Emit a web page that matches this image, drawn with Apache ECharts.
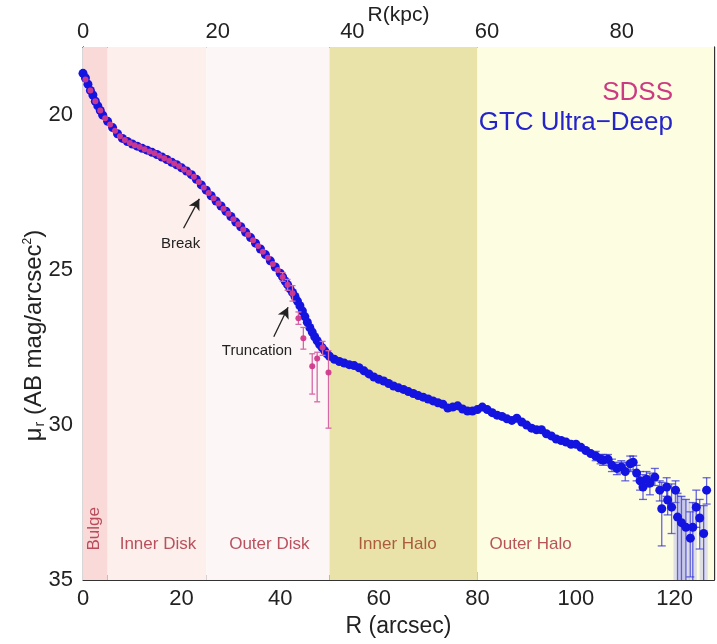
<!DOCTYPE html>
<html>
<head>
<meta charset="utf-8">
<script src="https://cdn.jsdelivr.net/npm/echarts@6/dist/echarts.min.js"></script>
<style>
  html, body { margin: 0; padding: 0; background: #fff; }
  #chart { width: 717px; height: 644px; }
</style>
</head>
<body>
<div id="chart"></div>
<script>
// GTC ultra-deep profile (R in arcsec, mu_r in mag/arcsec^2)
const R_GTC = [0, 0.5, 1, 1.5, 2, 2.5, 3, 3.5, 4, 5, 6, 7, 8, 9, 10, 11, 12, 13, 14, 15, 16, 17, 18, 19,
  20, 21, 22, 23, 24, 25, 26, 27, 28, 29, 30, 31, 32, 33, 34, 35, 36, 37, 38, 39, 40, 40.5, 41, 41.5,
  42, 42.5, 43, 43.5, 44, 44.5, 45, 45.5, 46, 46.5, 47, 47.5, 48, 48.5, 49, 49.5, 50, 51, 52, 53, 54,
  55, 56, 57, 58, 59, 60, 61, 62, 63, 64, 65, 66, 67, 68, 69,
  70, 71, 72, 73, 74, 75, 76, 77, 78, 79, 80, 81, 82, 83, 84, 85, 86, 87, 88, 89, 90, 91, 92, 93, 94,
  95, 96, 97, 98, 99, 100, 101, 102, 103]
const MU_GTC = [18.65, 18.8, 19.0, 19.2, 19.35, 19.55, 19.7, 19.85, 20.0, 20.2, 20.4, 20.6, 20.75, 20.85,
  20.93, 21.0, 21.07, 21.13, 21.2, 21.27, 21.35, 21.43, 21.52, 21.6, 21.7, 21.8, 21.92, 22.07, 22.25,
  22.42, 22.6, 22.77, 22.93, 23.1, 23.27, 23.45, 23.6, 23.78, 23.95, 24.13, 24.32, 24.5, 24.7, 24.9,
  25.1, 25.22, 25.35, 25.47, 25.6, 25.72, 25.85, 26.0, 26.15, 26.32, 26.5, 26.68, 26.85, 27.0, 27.15,
  27.28, 27.4, 27.5, 27.6, 27.7, 27.78, 27.88, 27.95, 28.0, 28.05,
  28.08, 28.15, 28.25, 28.35, 28.45, 28.52, 28.58, 28.66, 28.74, 28.8, 28.85, 28.92, 28.98, 29.05,
  29.1, 29.16, 29.22, 29.28, 29.33, 29.45, 29.42, 29.38, 29.48, 29.55, 29.55, 29.5, 29.42, 29.5, 29.6,
  29.68, 29.72, 29.8, 29.85, 29.78, 29.9, 30.0, 30.1, 30.15, 30.15, 30.28, 30.35, 30.45, 30.5, 30.55,
  30.62, 30.62, 30.72, 30.82, 30.92]

// outer GTC points with error bars
const R_GTC_TAIL = [104, 105, 105.5, 106.5, 107.3, 108.3, 109.2, 110, 111, 111.6, 112.3, 113, 113.6,
  114.3, 115, 116, 117, 117.4, 118.4, 118.6, 119.4, 120.2, 120.6, 121.4, 122.3, 123.2, 123.7, 124.4,
  125.1, 125.9, 126.5]
const MU_GTC_TAIL = [31.0, 31.1, 31.13, 31.1, 31.3, 31.4, 31.35, 31.5, 31.25, 31.2, 31.55, 31.8, 32.0,
  31.75, 31.87, 31.68, 32.1, 32.7, 32.0, 32.42, 32.65, 32.1, 32.97, 33.15, 33.3, 33.65, 33.3, 32.65,
  33.0, 33.5, 32.1]
const LO_GTC_TAIL = [30.85, 30.95, 30.95, 30.95, 31.1, 31.2, 31.15, 31.2, 31.0, 31.0, 31.3, 31.5, 31.6,
  31.5, 31.55, 31.4, 31.8, 31.85, 31.7, 32.0, 31.9, 31.8, 32.2, 32.3, 32.4, 32.8, 32.5, 32.1, 32.4,
  32.6, 31.7]
const HI_GTC_TAIL = [31.15, 31.25, 31.3, 31.25, 31.5, 31.6, 31.55, 31.8, 31.5, 31.45, 31.8, 32.1, 32.4,
  32.0, 32.25, 31.95, 32.45, 33.9, 32.3, 32.9, 33.5, 32.5, 35.5, 35.5, 35.5, 34.9, 35.5, 33.3, 34.0,
  35.5, 32.55]

// SDSS profile
const R_SDSS = [0.5, 1.5, 2.5, 3.5, 4.5, 5.5, 6.5, 7.5, 8.5, 9.5, 10.5, 11.5, 12.5, 13.5, 14.5, 15.5,
  16.5, 17.5, 18.5, 19.5, 20.5, 21.5, 22.5, 23.5, 24.5, 25.5, 26.5, 27.5, 28.5, 29.5, 30.5, 31.5, 32.5,
  33.5, 34.5, 35.5, 36.5, 37.5, 38.5, 39.5]
const MU_SDSS = [18.85, 19.2, 19.55, 19.85, 20.1, 20.3, 20.5, 20.68, 20.8, 20.9, 20.97, 21.03, 21.1,
  21.17, 21.23, 21.31, 21.39, 21.47, 21.56, 21.65, 21.75, 21.86, 21.99, 22.16, 22.33, 22.51, 22.68,
  22.85, 23.02, 23.18, 23.36, 23.52, 23.69, 23.86, 24.04, 24.22, 24.41, 24.6, 24.8, 25.0]
const R_SDSS_ERR = [40.5, 41.5, 42.5, 43.7, 44.7, 46.5, 47.5, 48.6, 49.8]
const MU_SDSS_ERR = [25.22, 25.47, 25.75, 26.55, 27.2, 28.1, 27.85, 27.5, 28.3]
const LO_SDSS_ERR = [25.08, 25.3, 25.5, 26.35, 26.85, 27.7, 27.65, 27.3, 27.6]
const HI_SDSS_ERR = [25.36, 25.65, 26.0, 26.75, 27.55, 29.0, 29.25, 27.75, 30.1]

// regions
const REGION_NAMES = ['Bulge', 'Inner Disk', 'Outer Disk', 'Inner Halo', 'Outer Halo']
const REGION_START = [0, 5, 25, 50, 80]
const REGION_END = [5, 25, 50, 80, 128]
const REGION_COLORS = ['#fad9d9', '#fdefeb', '#fdf6f6', '#e9e3aa', '#fdfde2']

// axes
const X_MAJOR = [0, 20, 40, 60, 80, 100, 120]
const X_MINOR = [5, 10, 15, 25, 30, 35, 45, 50, 55, 65, 70, 75, 85, 90, 95, 105, 110, 115, 125]
const KPC_MAJOR = [0, 20, 40, 60, 80]
const KPC_MINOR = [5, 10, 15, 25, 30, 35, 45, 50, 55, 65, 70, 75, 85, 90]
const Y_MAJOR = [20, 25, 30, 35]
const Y_MINOR = [18, 19, 21, 22, 23, 24, 26, 27, 28, 29, 31, 32, 33, 34]

const ARCSEC_MAX = 128
const KPC_MAX = 93.7
const Y_MIN = 17.8
const Y_MAX = 35

const FONT = 'Liberation Sans, Arial, sans-serif'
const AXIS_COLOR = '#333'
const BLUE = '#1414e0'
const PINK = '#d13a8c'

const chart = echarts.init(document.getElementById('chart'))

const zip2 = (xs, ys) => xs.map((x, i) => [x, ys[i]])
const zip4 = (xs, ys, lo, hi) => xs.map((x, i) => [x, ys[i], lo[i], hi[i]])

function errorBar (color, cap, fill) {
  return function (params, api) {
    const x = api.value(0)
    const p1 = api.coord([x, api.value(2)])
    const p2 = api.coord([x, api.value(3)])
    const style = { stroke: color, lineWidth: 1.3 }
    const children = [
      { type: 'line', shape: { x1: p1[0], y1: p1[1], x2: p2[0], y2: p2[1] }, style },
      { type: 'line', shape: { x1: p1[0] - cap, y1: p1[1], x2: p1[0] + cap, y2: p1[1] }, style },
      { type: 'line', shape: { x1: p2[0] - cap, y1: p2[1], x2: p2[0] + cap, y2: p2[1] }, style }
    ]
    // long bars running off the bottom look like pale columns in the original
    if (fill && api.value(3) >= Y_MAX) {
      children.unshift({
        type: 'rect',
        shape: { x: p1[0] - cap, y: p1[1], width: cap * 2, height: p2[1] - p1[1] },
        style: { fill: fill }
      })
    }
    return { type: 'group', children }
  }
}

function xAxisBase (pos, max, ticks, len, labels) {
  return {
    type: 'value',
    position: pos,
    min: 0,
    max: max,
    axisLine: { show: labels, onZero: false, lineStyle: { color: AXIS_COLOR, width: 1.2 } },
    axisTick: { show: true, inside: true, length: len, customValues: ticks, lineStyle: { color: AXIS_COLOR } },
    axisLabel: labels
      ? { show: true, customValues: ticks, fontFamily: FONT, fontSize: 22, color: '#222', margin: 8 }
      : { show: false },
    splitLine: { show: false }
  }
}

function yAxisBase (pos, ticks, len, labels) {
  return {
    type: 'value',
    position: pos,
    inverse: true,
    min: Y_MIN,
    max: Y_MAX,
    axisLine: { show: true, onZero: false, lineStyle: { color: AXIS_COLOR, width: 1.2 } },
    axisTick: { show: true, inside: true, length: len, customValues: ticks, lineStyle: { color: AXIS_COLOR } },
    axisLabel: labels
      ? { show: true, customValues: ticks, fontFamily: FONT, fontSize: 22, color: '#222', margin: 10 }
      : { show: false },
    splitLine: { show: false }
  }
}

const xBottom = xAxisBase('bottom', ARCSEC_MAX, X_MAJOR, 8, true)
xBottom.name = 'R (arcsec)'
xBottom.nameLocation = 'middle'
xBottom.nameGap = 34
xBottom.nameTextStyle = { fontFamily: FONT, fontSize: 23, color: '#222' }

const xTop = xAxisBase('top', KPC_MAX, KPC_MAJOR, 8, true)
xTop.axisLabel.margin = 4
xTop.name = 'R(kpc)'
xTop.nameLocation = 'middle'
xTop.nameGap = 21
xTop.nameMoveOverlap = false
xTop.nameTextStyle = { fontFamily: FONT, fontSize: 21, color: '#222' }

const yLeft = yAxisBase('left', Y_MAJOR, 8, true)
yLeft.name = '{t|μ}{s|r}{t| (AB mag/arcsec}{p|2}{t|)}'
yLeft.nameLocation = 'middle'
yLeft.nameGap = 36
yLeft.nameMoveOverlap = false
yLeft.nameTextStyle = {
  fontFamily: FONT,
  color: '#222',
  padding: [0, 44, 0, 0],
  rich: {
    t: { fontFamily: FONT, fontSize: 24, color: '#222' },
    s: { fontFamily: FONT, fontSize: 14, color: '#222', padding: [12, 0, 0, 1] },
    p: { fontFamily: FONT, fontSize: 12, color: '#222', padding: [0, 0, 12, 0] }
  }
}

const option = {
  backgroundColor: '#fff',
  animation: false,
  grid: { left: 83, right: 3, top: 47, bottom: 64, outerBoundsMode: 'none' },
  xAxis: [
    xBottom,
    xTop,
    xAxisBase('bottom', ARCSEC_MAX, X_MINOR, 5, false),
    xAxisBase('top', KPC_MAX, KPC_MINOR, 5, false)
  ],
  yAxis: [
    yLeft,
    yAxisBase('left', Y_MINOR, 5, false),
    yAxisBase('right', Y_MAJOR, 8, false),
    yAxisBase('right', Y_MINOR, 5, false)
  ],
  graphic: [
    {
      type: 'text', right: 44, top: 80, z: 100,
      style: { text: 'SDSS', fill: '#cc3a82', font: '26px ' + FONT, textAlign: 'right' }
    },
    {
      type: 'text', right: 44, top: 110, z: 100,
      style: { text: 'GTC Ultra\u2212Deep', fill: '#2424c8', font: '26px ' + FONT, textAlign: 'right' }
    }
  ],
  series: [
    {
      name: 'regions',
      type: 'line',
      data: [],
      silent: true,
      markArea: {
        silent: true,
        data: REGION_NAMES.map((n, i) => [
          { xAxis: REGION_START[i], yAxis: Y_MIN, itemStyle: { color: REGION_COLORS[i] } },
          { xAxis: REGION_END[i], yAxis: Y_MAX }
        ])
      }
    },
    {
      name: 'region labels',
      type: 'scatter',
      symbolSize: 0,
      silent: true,
      data: [
        { value: [2.3, 33.35], name: 'Bulge', label: { rotate: 90 } },
        { value: [15.2, 33.85], name: 'Inner Disk' },
        { value: [37.8, 33.85], name: 'Outer Disk' },
        { value: [63.8, 33.85], name: 'Inner Halo', label: { color: '#9a3a22' } },
        { value: [90.8, 33.85], name: 'Outer Halo' }
      ],
      label: {
        show: true,
        position: 'inside',
        formatter: '{b}',
        fontFamily: FONT,
        fontSize: 17,
        color: '#a8283a'
      }
    },
    {
      name: 'GTC errors',
      type: 'custom',
      clip: true,
      renderItem: errorBar('rgba(40,40,215,0.7)', 4, 'rgba(130,130,240,0.25)'),
      data: zip4(R_GTC_TAIL, MU_GTC_TAIL, LO_GTC_TAIL, HI_GTC_TAIL),
      z: 3
    },
    {
      name: 'GTC Ultra-Deep',
      type: 'scatter',
      symbol: 'circle',
      symbolSize: 9,
      itemStyle: { color: BLUE, opacity: 1 },
      data: zip2(R_GTC, MU_GTC).concat(zip2(R_GTC_TAIL, MU_GTC_TAIL)),
      z: 4
    },
    {
      name: 'SDSS errors',
      type: 'custom',
      clip: true,
      renderItem: errorBar('#d568a6', 3),
      data: zip4(R_SDSS_ERR, MU_SDSS_ERR, LO_SDSS_ERR, HI_SDSS_ERR),
      z: 5
    },
    {
      name: 'SDSS',
      type: 'scatter',
      symbol: 'circle',
      symbolSize: 6,
      itemStyle: { color: PINK, opacity: 0.95 },
      data: zip2(R_SDSS, MU_SDSS).concat(zip2(R_SDSS_ERR, MU_SDSS_ERR)),
      z: 6,
      markLine: {
        silent: true,
        symbol: ['none', 'arrow'],
        symbolSize: [9, 11],
        lineStyle: { color: '#222', width: 1.3, type: 'solid' },
        label: { show: false },
        data: [
          [{ coord: [20.4, 23.65] }, { coord: [23.6, 22.7] }],
          [{ coord: [38.7, 27.15] }, { coord: [41.6, 26.2] }]
        ]
      },
      markPoint: {
        silent: true,
        symbol: 'circle',
        symbolSize: 0,
        label: { show: true, position: 'inside', fontFamily: FONT, fontSize: 15, color: '#222' },
        data: [
          { coord: [19.8, 24.15], value: 'Break' },
          { coord: [35.3, 27.6], value: 'Truncation' }
        ]
      }
    }
  ]
}

chart.setOption(option)
</script>
</body>
</html>
